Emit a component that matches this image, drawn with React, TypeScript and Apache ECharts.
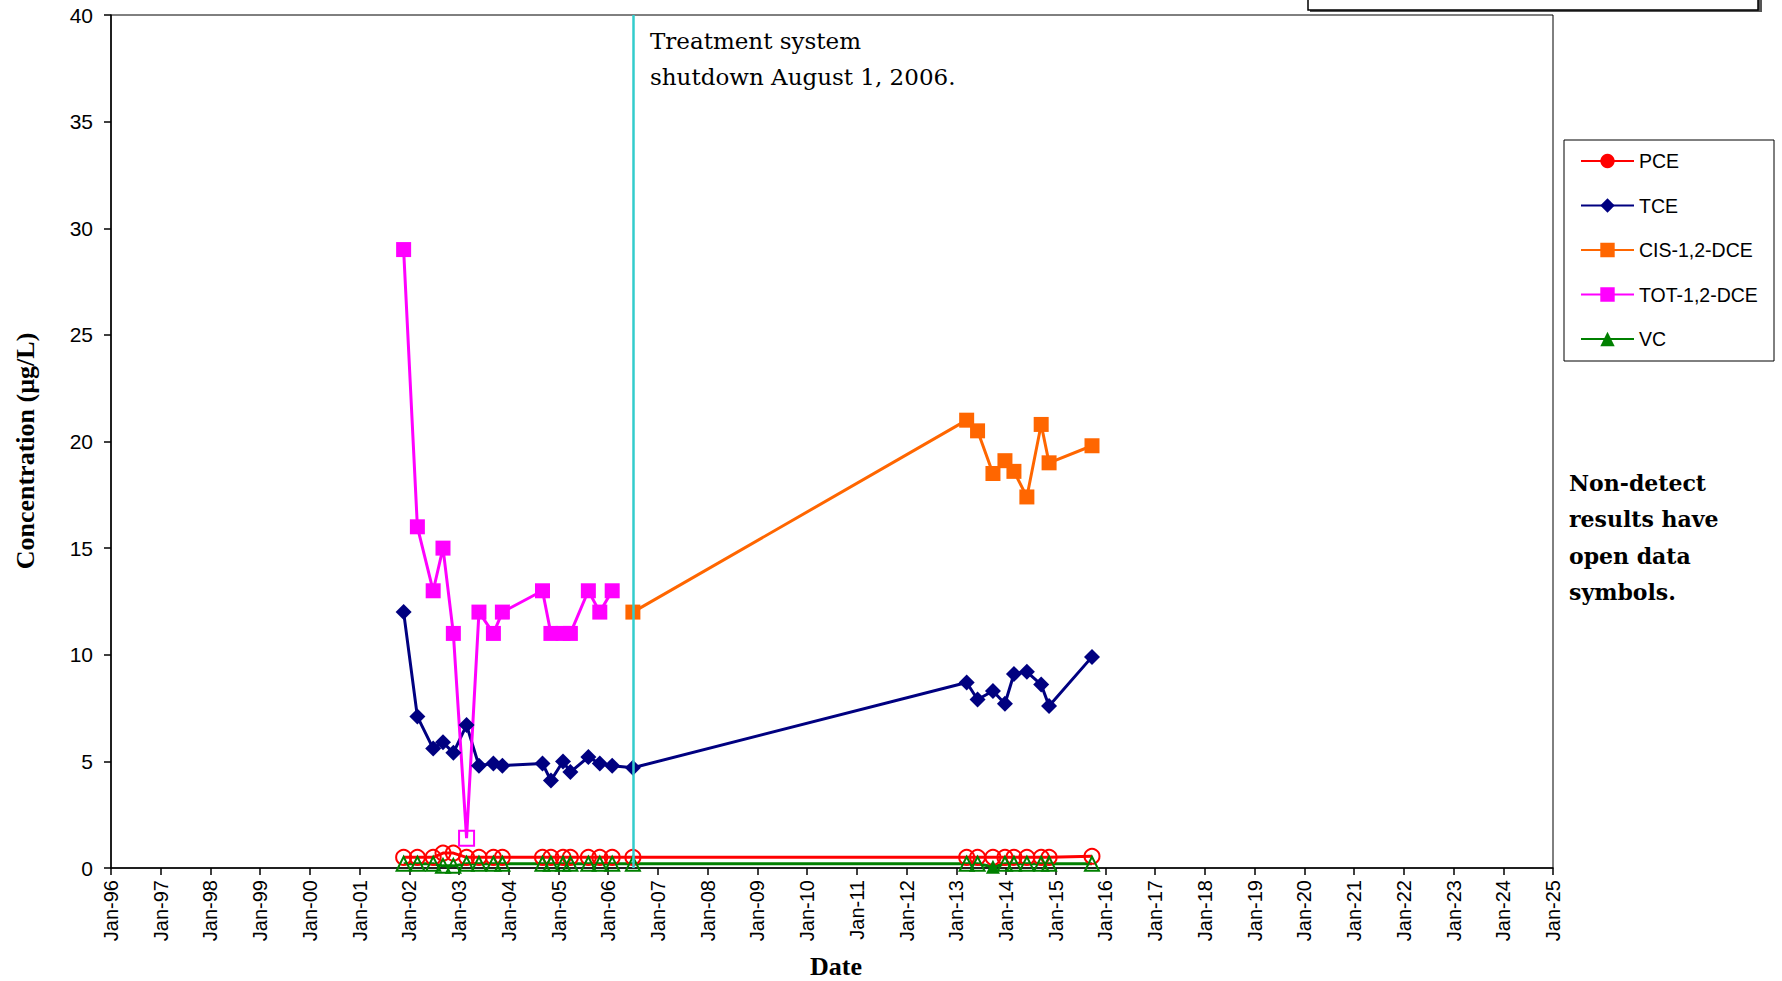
import React, { useEffect, useRef } from "react";
import * as echarts from "echarts";

// Sampling dates (ISO)
const sampleDates: string[] = [
  "2001-11-20", "2002-03-01", "2002-06-25", "2002-09-05", "2002-11-20",
  "2003-02-25", "2003-05-27", "2003-09-10", "2003-11-15", "2004-09-05",
  "2004-11-06", "2005-02-03", "2005-03-29", "2005-08-08", "2005-10-31",
  "2006-01-30", "2006-07-01",
  "2013-03-18", "2013-06-06", "2013-09-27", "2013-12-24", "2014-02-28",
  "2014-06-03", "2014-09-16", "2014-11-13", "2015-09-24",
];

// Concentrations (µg/L); null = not sampled
const pceValues: (number | null)[] = [
  0.5, 0.5, 0.5, 0.7, 0.7, 0.5, 0.5, 0.5, 0.5, 0.5, 0.5, 0.5, 0.5, 0.5, 0.5, 0.5, 0.5,
  0.5, 0.5, 0.5, 0.5, 0.5, 0.5, 0.5, 0.5, 0.55,
];
const pceNonDetect: boolean[] = [
  true, true, true, true, true, true, true, true, true, true, true, true, true, true, true, true, true,
  true, true, true, true, true, true, true, true, true,
];
const tceValues: (number | null)[] = [
  12, 7.1, 5.6, 5.9, 5.4, 6.7, 4.8, 4.9, 4.8, 4.9, 4.1, 5.0, 4.5, 5.2, 4.9, 4.8, 4.7,
  8.7, 7.9, 8.3, 7.7, 9.1, 9.2, 8.6, 7.6, 9.9,
];
const cisValues: (number | null)[] = [
  null, null, null, null, null, null, null, null, null, null, null, null, null, null, null, null, 12,
  21.0, 20.5, 18.5, 19.1, 18.6, 17.4, 20.8, 19.0, 19.8,
];
const totValues: (number | null)[] = [
  29, 16, 13, 15, 11, 1.4, 12, 11, 12, 13, 11, 11, 11, 13, 12, 13, null,
  null, null, null, null, null, null, null, null, null,
];
const totNonDetect: boolean[] = [
  false, false, false, false, false, true, false, false, false, false, false, false, false, false, false, false, false,
  false, false, false, false, false, false, false, false, false,
];
const vcValues: (number | null)[] = [
  0.2, 0.2, 0.2, 0.1, 0.1, 0.2, 0.2, 0.2, 0.2, 0.2, 0.2, 0.2, 0.2, 0.2, 0.2, 0.2, 0.2,
  0.2, 0.2, 0.06, 0.2, 0.2, 0.2, 0.2, 0.2, 0.2,
];
const vcNonDetect: boolean[] = [
  true, true, true, true, true, true, true, true, true, true, true, true, true, true, true, true, true,
  true, true, false, true, true, true, true, true, true,
];

const shutdownDate = "2006-07-05";
const xMinYear = 1996;
const xMaxYear = 2025;
const yMax = 40;
const yInterval = 5;

const toYear = (d: string): number => {
  const [y, m, dd] = d.split("-").map(Number);
  const start = Date.UTC(y, 0, 1);
  const end = Date.UTC(y + 1, 0, 1);
  return y + (Date.UTC(y, m - 1, dd) - start) / (end - start);
};

const buildData = (values: (number | null)[], nd: boolean[] | null, color: string) => {
  const out: any[] = [];
  values.forEach((v, i) => {
    if (v == null) return;
    const item: any = { value: [toYear(sampleDates[i]), v] };
    if (nd && nd[i]) {
      item.itemStyle = { color: "rgba(255,255,255,0)", borderColor: color, borderWidth: 2 };
    }
    out.push(item);
  });
  return out;
};

const SANS = "'Liberation Sans', Arial, sans-serif";

export default function App() {
  const ref = useRef<HTMLDivElement>(null);
  useEffect(() => {
    if (!ref.current) return;
    const chart = echarts.init(ref.current, null, { renderer: "svg" });
    const mk = (name: string, color: string, symbol: string, size: number, values: (number | null)[], nd: boolean[] | null) => ({
      name,
      type: "line",
      symbol,
      symbolSize: size,
      showSymbol: true,
      color,
      lineStyle: { color, width: 3 },
      itemStyle: { color, borderColor: color, borderWidth: 0 },
      data: buildData(values, nd, color),
      z: 3,
    });
    const option: any = {
      animation: false,
      backgroundColor: "#ffffff",
      grid: {
        left: 111,
        right: 229,
        top: 15,
        bottom: 113,
        show: true,
        borderColor: "#000",
        borderWidth: 1,
        backgroundColor: "transparent",
      },
      xAxis: {
        type: "value",
        min: xMinYear,
        max: xMaxYear,
        interval: 1,
        axisLine: { show: true, onZero: false, lineStyle: { color: "#000", width: 1.5 } },
        axisTick: { show: true, inside: false, length: 7, lineStyle: { color: "#000", width: 1.5 } },
        splitLine: { show: false },
        axisLabel: {
          rotate: 90,
          margin: 12,
          color: "#000",
          fontSize: 20,
          fontFamily: SANS,
          formatter: (v: number) => "Jan-" + String(Math.round(v) % 100).padStart(2, "0"),
        },
      },
      yAxis: {
        type: "value",
        min: 0,
        max: yMax,
        interval: yInterval,
        axisLine: { show: true, lineStyle: { color: "#000", width: 1.5 } },
        axisTick: { show: true, inside: false, length: 7, lineStyle: { color: "#000", width: 1.5 } },
        splitLine: { show: false },
        axisLabel: { margin: 18, color: "#000", fontSize: 21, fontFamily: SANS },
      },
      legend: {
        orient: "vertical",
        left: 1580,
        top: 151,
        padding: 0,
        itemWidth: 53,
        itemHeight: 18,
        itemGap: 24.5,
        textStyle: { fontSize: 19.5, fontFamily: SANS, color: "#000" },
        data: ["PCE", "TCE", "CIS-1,2-DCE", "TOT-1,2-DCE", "VC"],
      },
      series: [
        mk("PCE", "#FF0000", "circle", 15, pceValues, pceNonDetect),
        mk("TCE", "#000080", "diamond", 16, tceValues, null),
        mk("CIS-1,2-DCE", "#FF6600", "rect", 15, cisValues, null),
        mk("TOT-1,2-DCE", "#FF00FF", "rect", 15, totValues, totNonDetect),
        mk("VC", "#008000", "triangle", 14, vcValues, vcNonDetect),
        {
          name: "shutdown",
          type: "line",
          data: [],
          z: 10,
          markLine: {
            silent: true,
            symbol: ["none", "none"],
            label: { show: false },
            lineStyle: { color: "#33CCCC", width: 2.5, type: "solid" },
            data: [{ xAxis: toYear(shutdownDate) }],
            z: 10,
          },
        },
      ],
      graphic: [
        { type: "rect", shape: { x: 1310, y: -10, width: 452, height: 22 }, style: { fill: "#555" }, silent: true },
        { type: "rect", shape: { x: 1308, y: -10, width: 450, height: 20 }, style: { fill: "#fff", stroke: "#000", lineWidth: 1.5 }, silent: true },
        { type: "rect", shape: { x: 1564, y: 140, width: 210, height: 221 }, style: { fill: "transparent", stroke: "#000", lineWidth: 1 }, silent: true, z: -1 },
        {
          type: "text",
          x: 650,
          y: 41,
          style: { text: "Treatment system", font: "23px 'DejaVu Serif', serif", fill: "#000", verticalAlign: "middle", align: "left" },
        },
        {
          type: "text",
          x: 650,
          y: 77,
          style: { text: "shutdown August 1, 2006.", font: "23px 'DejaVu Serif', serif", fill: "#000", verticalAlign: "middle", align: "left" },
        },
        ...["Non-detect", "results have", "open data", "symbols."].map((t, i) => ({
          type: "text",
          x: 1569,
          y: 483 + i * 36.4,
          style: { text: t, font: "bold 22px 'DejaVu Serif', serif", fill: "#000", verticalAlign: "middle", align: "left" },
        })),
        {
          type: "text",
          x: 25,
          y: 451,
          rotation: Math.PI / 2,
          style: { text: "Concentration (µg/L)", font: "bold 26px 'Liberation Serif', serif", fill: "#000", verticalAlign: "middle", align: "center" },
        },
        {
          type: "text",
          x: 836,
          y: 966,
          style: { text: "Date", font: "bold 26px 'Liberation Serif', serif", fill: "#000", verticalAlign: "middle", align: "center" },
        },
      ],
    };
    chart.setOption(option);
    return () => chart.dispose();
  }, []);
  return (
    <div
      ref={ref}
      style={{ position: "fixed", left: 0, top: 0, width: 1782, height: 981, background: "#fff" }}
    />
  );
}
